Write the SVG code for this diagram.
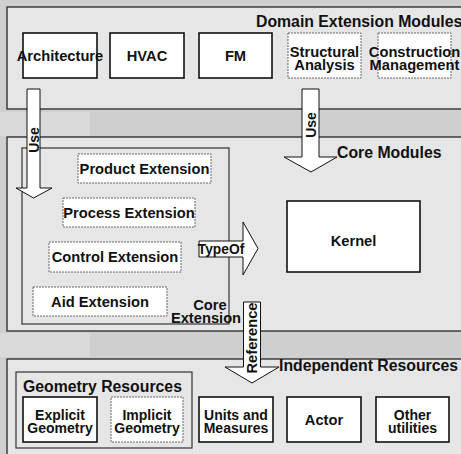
<svg xmlns="http://www.w3.org/2000/svg" width="461" height="454" viewBox="0 0 461 454">
<style>
.panel{fill:#e6e6e6;stroke:#333;stroke-width:1.4}
.solid{fill:#fff;stroke:#111;stroke-width:1.6}
.dash{fill:#fff;stroke:#666;stroke-width:1;stroke-dasharray:2 1}
.inner{fill:none;stroke:#333;stroke-width:1.2}
.arrow{fill:#fff;stroke:#111;stroke-width:1}
text{font-family:"Liberation Sans",Arial,sans-serif;font-weight:bold;fill:#111}
.lbl{font-size:14.7px;text-anchor:middle}
.lbl2{font-size:14px;text-anchor:middle}
.title{font-size:15.8px}
</style>
<rect x="0" y="0" width="461" height="454" fill="#cfcfcf"/>
<rect x="0" y="112" width="90" height="24" fill="#dadada"/>
<rect x="0" y="333" width="90" height="24" fill="#dadada"/>

<g id="domain-panel">
<rect class="panel" x="7" y="7" width="470" height="102"/>
<text class="title" x="256" y="27">Domain Extension Modules</text>
</g>
<g id="core-panel">
<rect class="panel" x="7" y="137" width="470" height="194"/>
<text class="title" x="337" y="158">Core Modules</text>
</g>
<g id="independent-panel">
<rect class="panel" x="7" y="359" width="470" height="110"/>
<text class="title" x="279" y="371">Independent Resources</text>
</g>

<g id="architecture"><rect class="solid" x="23" y="33" width="74" height="45"/><text class="lbl" x="60" y="61">Architecture</text></g>
<g id="hvac"><rect class="solid" x="110" y="33" width="74" height="45"/><text class="lbl" x="147" y="61">HVAC</text></g>
<g id="fm"><rect class="solid" x="199" y="33" width="73" height="45"/><text class="lbl" x="235.5" y="61">FM</text></g>
<g id="structural-analysis"><rect class="dash" x="288" y="33" width="73" height="45"/><text class="lbl" x="324.5" y="57">Structural</text><text class="lbl" x="324.5" y="70">Analysis</text></g>
<g id="construction-management"><rect class="dash" x="378" y="33" width="73" height="45"/><text class="lbl" x="414.5" y="57">Construction</text><text class="lbl" x="414.5" y="70">Management</text></g>

<g id="core-extension">
<rect class="inner" x="22" y="148" width="207" height="176"/>
<text class="lbl" x="210" y="310">Core</text>
<text class="lbl" x="206" y="323">Extension</text>
</g>
<g id="product-extension"><rect class="dash" x="78" y="154" width="133" height="29"/><text class="lbl" x="144.5" y="173.5">Product Extension</text></g>
<g id="process-extension"><rect class="dash" x="63" y="198" width="132" height="29"/><text class="lbl" x="129" y="217.5">Process Extension</text></g>
<g id="control-extension"><rect class="dash" x="49" y="242" width="132" height="30"/><text class="lbl" x="115" y="262">Control Extension</text></g>
<g id="aid-extension"><rect class="dash" x="33" y="287" width="134" height="29"/><text class="lbl" x="100" y="306.5">Aid Extension</text></g>
<g id="kernel"><rect class="solid" x="287" y="201" width="133" height="71"/><text class="lbl" x="353.5" y="246">Kernel</text></g>

<g id="geometry-resources">
<rect class="inner" x="16" y="372" width="176" height="76"/>
<text class="title" x="23" y="392">Geometry Resources</text>
</g>
<g id="explicit-geometry"><rect class="solid" x="23" y="397" width="74" height="45"/><text class="lbl2" x="60" y="420">Explicit</text><text class="lbl2" x="60" y="433">Geometry</text></g>
<g id="implicit-geometry"><rect class="dash" x="111" y="397" width="72" height="45"/><text class="lbl2" x="147" y="420">Implicit</text><text class="lbl2" x="147" y="433">Geometry</text></g>
<g id="units-measures"><rect class="solid" x="199" y="397" width="74" height="45"/><text class="lbl2" x="236" y="420">Units and</text><text class="lbl2" x="236" y="433">Measures</text></g>
<g id="actor"><rect class="solid" x="287" y="397" width="74" height="45"/><text class="lbl" x="324" y="425">Actor</text></g>
<g id="other-utilities"><rect class="solid" x="376" y="397" width="73" height="45"/><text class="lbl2" x="412.5" y="420">Other</text><text class="lbl2" x="412.5" y="433">utilities</text></g>

<g id="connectors">
<g id="use-1">
<path class="arrow" d="M27,89 H40 V188 H52 L33.5,198 L16,188 H27 Z"/>
<text class="lbl2" transform="translate(38.5,140) rotate(-90)">Use</text>
</g>
<g id="use-2">
<path class="arrow" d="M302,89 H319 V157 H337 L311,172 L284,157 H302 Z"/>
<text class="lbl2" transform="translate(315.5,125) rotate(-90)">Use</text>
</g>
<g id="typeof">
<path class="arrow" d="M199,241 H243 V222 L258,248.5 L243,275 V257 H199 Z"/>
<text x="221" y="254" style="font-size:13.8px;text-anchor:middle">TypeOf</text>
</g>
<g id="reference">
<path class="arrow" d="M243.5,302 H260.5 V367 H279 L252,383 L225,367 H243.5 Z"/>
<text class="lbl" transform="translate(257,338) rotate(-90)">Reference</text>
</g>
</g>
</svg>
